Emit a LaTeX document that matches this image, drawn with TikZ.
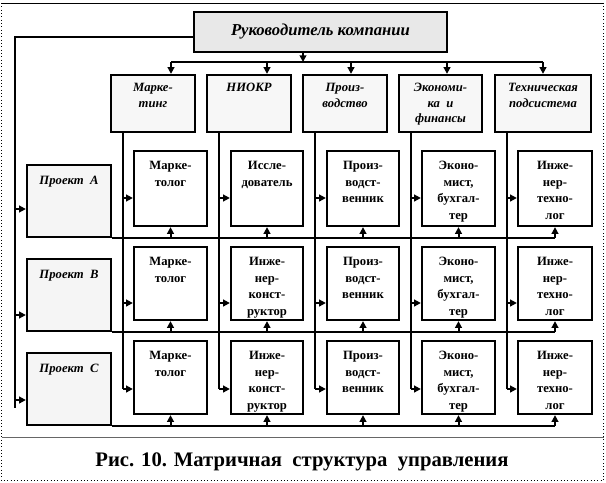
\documentclass[tikz,border=0pt]{standalone}
\usepackage{fontspec}
\setmainfont{Liberation Serif}
\usetikzlibrary{arrows.meta}
\newcommand\mkbox[6]{\node[#1,minimum width={(#4-#2)*0.75pt},minimum height={(#5-#3)*0.75pt}] (#6) at ({(#2+#4)/2},{(#3+#5)/2}) {};}
\begin{document}
\begin{tikzpicture}[x=0.75pt,y=-0.75pt,
  bx/.style={draw=black,line width=1.7pt,inner sep=0pt},
  topbox/.style={bx,fill=black!9},
  depbox/.style={bx,fill=black!3},
  prjbox/.style={bx,fill=black!4},
  inbox/.style={bx,fill=white},
  ln/.style={line width=1.5pt},
  arr/.style={line width=1.5pt,-{Triangle[length=5pt,width=5pt]}},
  itl/.style={inner sep=0pt,align=center,font=\bfseries\itshape\fontsize{9.5}{11.5}\selectfont},
  itx/.style={inner sep=0pt,align=center,font=\bfseries\fontsize{9.5}{12.4}\selectfont}]
\useasboundingbox (0,0) rectangle (606,482);
\fill[white] (0,0) rectangle (606,482);
% frame
\draw[line width=0.5pt,dotted] (1.5,3) rectangle (603.5,480.5);
\draw[line width=0.6pt] (1.5,3) -- (603.5,3);
\draw[line width=0.7pt,black!60] (1.5,437.5) -- (603.5,437.5);
% boxes
\mkbox{topbox}{194}{12}{447}{52}{ceo}
\node[inner sep=0pt,font=\bfseries\itshape\fontsize{12.5}{14}\selectfont] (ceot) at (ceo.center) {Руководитель компании};
\mkbox{depbox}{111}{75}{195}{132}{d1}
\mkbox{depbox}{207}{75}{291}{132}{d2}
\mkbox{depbox}{303}{75}{387}{132}{d3}
\mkbox{depbox}{399}{75}{482}{132}{d4}
\mkbox{depbox}{495}{75}{591}{132}{d5}
\node[itl,anchor=north] (d1t) at ([yshift=-7pt]d1.north) {Марке-\\тинг};
\node[itl,anchor=north] (d2t) at ([yshift=-7pt]d2.north) {НИОКР};
\node[itl,anchor=north] (d3t) at ([yshift=-7pt]d3.north) {Произ-\\водство};
\node[itl,anchor=north] (d4t) at ([yshift=-7pt]d4.north) {Экономи-\\ка\ \ и\\финансы};
\node[itl,anchor=north] (d5t) at ([yshift=-7pt]d5.north) {Техническая\\подсистема};
% projects
\mkbox{prjbox}{27}{165}{111}{237}{pa}
\mkbox{prjbox}{27}{259}{111}{331}{pb}
\mkbox{prjbox}{27}{353}{111}{425}{pc}
\node[itl,anchor=north] (pat) at ([yshift=-9pt]pa.north) {Проект\ \ А};
\node[itl,anchor=north] (pbt) at ([yshift=-9pt]pb.north) {Проект\ \ В};
\node[itl,anchor=north] (pct) at ([yshift=-9pt]pc.north) {Проект\ \ С};
% inner boxes
\foreach \r/\ya/\yb in {a/151/226,b/247/320,c/341/414}{
  \mkbox{inbox}{134}{\ya}{207}{\yb}{\r1}
  \mkbox{inbox}{231}{\ya}{303}{\yb}{\r2}
  \mkbox{inbox}{327}{\ya}{399}{\yb}{\r3}
  \mkbox{inbox}{422}{\ya}{495}{\yb}{\r4}
  \mkbox{inbox}{518}{\ya}{592}{\yb}{\r5}
}
\foreach \r/\txt in {a/{Иссле-\\дователь},b/{Инже-\\нер-\\конст-\\руктор},c/{Инже-\\нер-\\конст-\\руктор}}{
  \node[itx,anchor=north] (\r1t) at ([yshift=-8.5pt]\r1.north) {Марке-\\толог};
  \node[itx,anchor=north] (\r2t) at ([yshift=-8.5pt]\r2.north) {\txt};
  \node[itx,anchor=north] (\r3t) at ([yshift=-8.5pt]\r3.north) {Произ-\\водст-\\венник};
  \node[itx,anchor=north] (\r4t) at ([yshift=-8.5pt]\r4.north) {Эконо-\\мист,\\бухгал-\\тер};
  \node[itx,anchor=north] (\r5t) at ([yshift=-8.5pt]\r5.north) {Инже-\\нер-\\техно-\\лог};
}
% top bus
\coordinate (bus) at (303,62);
\draw[arr] (ceo.south -| bus) -- (bus);
\coordinate (bl) at (171,62);
\coordinate (br) at (543,62);
\draw[ln] (bl) -- (br);
\foreach \x/\d in {171/d1,267/d2,351/d3,447/d4,543/d5}{
  \draw[arr] (\x,62) -- (\d.north -| \x,0);
}
% department verticals and row arrows
\foreach \i/\x in {1/123,2/219,3/315,4/411,5/507}{
  \coordinate (v\i) at (\x,389);
  \draw[ln] (d\i.south -| v\i) -- (v\i);
  \draw[arr] (\x,198) -- (a\i.west |- 0,198);
  \draw[arr] (\x,303) -- (b\i.west |- 0,303);
  \draw[arr] (v\i) -- (c\i.west |- v\i);
}
% project lines
\foreach \p/\r in {pa/a,pb/b,pc/c}{
  \draw[ln] (\p.south east) -- (\p.south east -| \r5.south);
  \foreach \j in {1,...,5}{
    \draw[arr] (\p.south east -| \r\j.south) -- (\r\j.south);
  }
}
% left trunk
\coordinate (lt) at (15,37);
\coordinate (lb) at (15,408);
\draw[ln] (ceo.west |- lt) -- (lt) -- (lb);
\draw[arr] (15,209) -- (pa.west |- 0,209);
\draw[arr] (15,315) -- (pb.west |- 0,315);
\draw[arr] (15,400) -- (pc.west |- 0,400);
% caption
\node[inner sep=0pt,font=\bfseries\fontsize{15.5}{18}\selectfont] (cap) at (302,462) {Рис. 10. Матричная\ \ структура\ \ управления};
\end{tikzpicture}
\end{document}
